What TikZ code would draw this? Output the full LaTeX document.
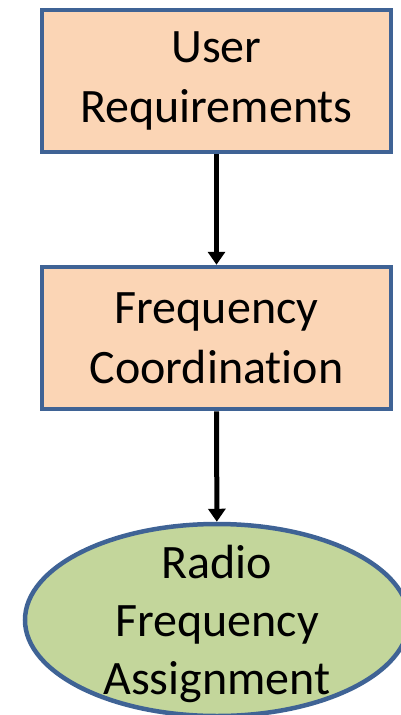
\documentclass[tikz,border=0pt]{standalone}
\usepackage{fontspec}
\setmainfont{Carlito}[Ligatures=NoCommon]
\usepackage{xcolor}
\usetikzlibrary{shapes.geometric, arrows.meta, positioning}

\definecolor{boxline}{HTML}{3F6395}
\definecolor{peach}{HTML}{FBD5B5}
\definecolor{sage}{HTML}{C3D69B}

\begin{document}
\begin{tikzpicture}[
    x=1pt, y=-1pt,
    stage/.style={rectangle, draw=boxline, fill=peach, line width=4.5pt, minimum width=349pt, minimum height=142pt, align=center, font=\fontsize{48}{60}\selectfont},
    outcome/.style={ellipse, draw=boxline, fill=sage, line width=4.5pt, minimum width=384pt, minimum height=192pt, inner sep=0pt},
    arrow/.style={-{Triangle[length=13pt, width=17pt]}, line width=5pt}
]
    \useasboundingbox (0,0) rectangle (400,715);

    % Stage nodes
    \node[stage] (user) at (216.5,81) {User\\Requirements};
    \node[stage] (coord) at (216.5,338) {Frequency\\Coordination};

    % Result node
    \node[outcome] (assign) at (217,620) {};
    \node[align=center, font=\fontsize{48}{58}\selectfont] (assigntext) at ([yshift=-4pt]assign.center) {Radio\\Frequency\\Assignment};

    % Arrows
    \draw[arrow] (user) -- (coord);
    \draw[arrow] (coord) -- (assign);
\end{tikzpicture}
\end{document}
